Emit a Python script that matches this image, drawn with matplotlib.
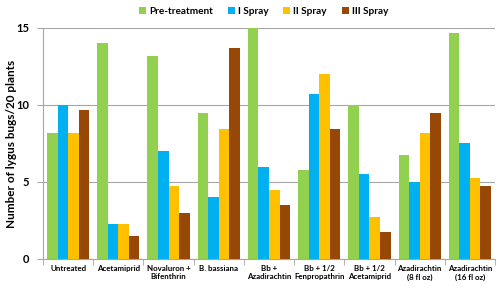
import matplotlib
matplotlib.use("Agg")
import matplotlib.pyplot as plt
import numpy as np

plt.rcParams['font.family'] = ['Lato', 'DejaVu Sans']

categories = ["Untreated", "Acetamiprid", "Novaluron +\nBifenthrin", "B. bassiana",
              "Bb +\nAzadirachtin", "Bb + 1/2\nFenpropathrin", "Bb + 1/2\nAcetamiprid",
              "Azadirachtin\n(8 fl oz)", "Azadirachtin\n(16 fl oz)"]
series_names = ["Pre-treatment", "I Spray", "II Spray", "III Spray"]
pre_treatment = [8.2, 14.0, 13.2, 9.45, 15.0, 5.75, 10.0, 6.75, 14.7]
i_spray = [10.0, 2.25, 7.0, 4.0, 6.0, 10.7, 5.5, 5.0, 7.5]
ii_spray = [8.2, 2.25, 4.75, 8.45, 4.5, 12.0, 2.75, 8.2, 5.25]
iii_spray = [9.7, 1.5, 3.0, 13.7, 3.5, 8.45, 1.75, 9.45, 4.75]
colors = ["#92D050", "#00B0F0", "#FFC000", "#974706"]

fig = plt.figure(figsize=(5, 2.91), dpi=100)
ax = fig.add_axes([0.086, 0.110, 0.904, 0.794])

x = np.arange(len(categories))
w = 0.21
for i, (name, vals) in enumerate(zip(series_names, [pre_treatment, i_spray, ii_spray, iii_spray])):
    ax.bar(x + (i - 1.5) * w, vals, width=w, color=colors[i], label=name, zorder=3)

ax.set_xlim(-0.5, len(categories) - 0.5)
ax.set_ylim(0, 15)
ax.set_yticks([0, 5, 10, 15])
ax.yaxis.grid(True, color="#A6A6A6", linewidth=0.8, zorder=0)
for s in ["top", "right"]:
    ax.spines[s].set_visible(False)
ax.spines["left"].set_color("#A6A6A6")
ax.spines["bottom"].set_color("#A6A6A6")
ax.set_xticks(x)
ax.set_xticklabels(categories, fontsize=5.7, fontweight="bold", linespacing=1.3)
ax.set_xticks(np.arange(-0.5, len(categories), 1), minor=True)
ax.tick_params(axis="x", which="major", length=0, pad=4)
ax.tick_params(axis="x", which="minor", length=4, color="#A6A6A6")
ax.tick_params(axis="y", length=4, color="#A6A6A6", labelsize=8, pad=6)
for lab in ax.get_yticklabels():
    lab.set_fontweight("bold")
ax.set_ylabel("Number of lygus bugs/20 plants", fontsize=8.5, fontweight="bold")
ax.yaxis.set_label_coords(-0.058, 0.5)

leg = fig.legend(loc="center", bbox_to_anchor=(0.527, 0.962), ncol=4, frameon=False,
                 prop={"size": 7.2, "weight": "bold"}, handlelength=0.7, handleheight=0.7,
                 handletextpad=0.3, columnspacing=1.5)

fig.savefig("out.png", dpi=100)
